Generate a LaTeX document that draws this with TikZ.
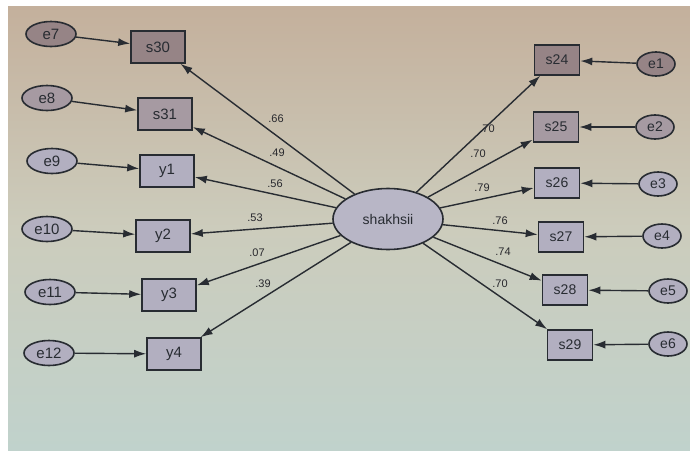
\documentclass[tikz,border=0pt]{standalone}
\usepackage{fontspec}
\setmainfont{Liberation Sans}
\usetikzlibrary{arrows.meta,shapes.geometric}
\definecolor{bgtop}{RGB}{196,176,156}
\definecolor{bgmid}{RGB}{204,204,188}
\definecolor{bgbot}{RGB}{192,210,204}
\definecolor{edgec}{RGB}{40,44,50}
\definecolor{fillA}{RGB}{150,132,134}
\definecolor{fillB}{RGB}{166,154,162}
\definecolor{fillC}{RGB}{178,175,192}
\definecolor{latfill}{RGB}{184,182,198}
\definecolor{lblc}{RGB}{40,40,45}
\begin{document}
\begin{tikzpicture}[x=1pt,y=-1pt,
  obsL/.style={draw=edgec, line width=1.6pt, fill=fillC, minimum width=54pt, minimum height=32pt, inner sep=0pt, font=\fontsize{15}{15}\selectfont, text=edgec},
  obsR/.style={obsL, minimum width=45pt, minimum height=30pt, font=\fontsize{14}{14}\selectfont},
  errL/.style={ellipse, draw=edgec, line width=1.6pt, fill=fillC, minimum width=50pt, minimum height=25pt, inner sep=0pt, font=\fontsize{15}{15}\selectfont, text=edgec},
  errR/.style={errL, minimum width=38pt, minimum height=24pt, font=\fontsize{14}{14}\selectfont},
  lat/.style={ellipse, draw=edgec, line width=1.6pt, fill=latfill, minimum width=110pt, minimum height=61pt, inner sep=0pt, font=\fontsize{14}{14}\selectfont, text=edgec},
  pathc/.style={draw=edgec, line width=1.4pt, -{Latex[length=12pt,width=8pt]}},
  lbl/.style={font=\fontsize{11}{11}\selectfont, text=lblc, inner sep=0pt}
]
\fill[white] (0,0) rectangle (690,450);
\shade[top color=bgtop, bottom color=bgbot, middle color=bgmid] (8,6) rectangle (690,450);
\useasboundingbox (0,0) rectangle (690,450);

% latent
\node[lat] (sh) at (388,219) {shakhsii};

% left side
\node[errL, fill=fillA] (e7) at (51,34) {e7};
\node[obsL, fill=fillA] (s30) at (158,47) {s30};
\node[errL, fill=fillB] (e8) at (47,98) {e8};
\node[obsL, fill=fillB] (s31) at (165,114) {s31};
\node[errL] (e9) at (52,161) {e9};
\node[obsL] (y1) at (167,171) {y1};
\node[errL] (e10) at (47,229) {e10};
\node[obsL] (y2) at (163,236) {y2};
\node[errL] (e11) at (50,292) {e11};
\node[obsL] (y3) at (169,295) {y3};
\node[errL] (e12) at (49,353) {e12};
\node[obsL] (y4) at (174,354) {y4};

% right side
\node[obsR, fill=fillA] (s24) at (557,60) {s24};
\node[errR, fill=fillA] (e1) at (656,64) {e1};
\node[obsR, fill=fillB] (s25) at (556,127) {s25};
\node[errR, fill=fillB] (e2) at (655,127) {e2};
\node[obsR] (s26) at (557,183) {s26};
\node[errR] (e3) at (658,184) {e3};
\node[obsR] (s27) at (561,237) {s27};
\node[errR] (e4) at (662,236) {e4};
\node[obsR] (s28) at (565,290) {s28};
\node[errR] (e5) at (668,291) {e5};
\node[obsR] (s29) at (570,345) {s29};
\node[errR] (e6) at (668,344) {e6};

% error arrows
\foreach \e/\o in {e7/s30,e8/s31,e9/y1,e10/y2,e11/y3,e12/y4,e1/s24,e2/s25,e3/s26,e4/s27,e5/s28,e6/s29}
  \draw[pathc] (\e) -- (\o);

% loadings
\foreach \o in {s30,s31,y1,y2,y3,y4,s24,s25,s26,s27,s28,s29}
  \draw[pathc] (sh) -- (\o);

% labels
\node[lbl] (l1) at (276,119) {.66};
\node[lbl] (l2) at (277,153) {.49};
\node[lbl] (l3) at (275,184) {.56};
\node[lbl] (l4) at (255,218) {.53};
\node[lbl] (l5) at (257,253) {.07};
\node[lbl] (l6) at (263,284) {.39};
\node[lbl] (r1) at (487,129) {.70};
\node[lbl] (r2) at (478,154) {.70};
\node[lbl] (r3) at (482,188) {.79};
\node[lbl] (r4) at (500,221) {.76};
\node[lbl] (r5) at (503,252) {.74};
\node[lbl] (r6) at (500,284) {.70};
\end{tikzpicture}
\end{document}
